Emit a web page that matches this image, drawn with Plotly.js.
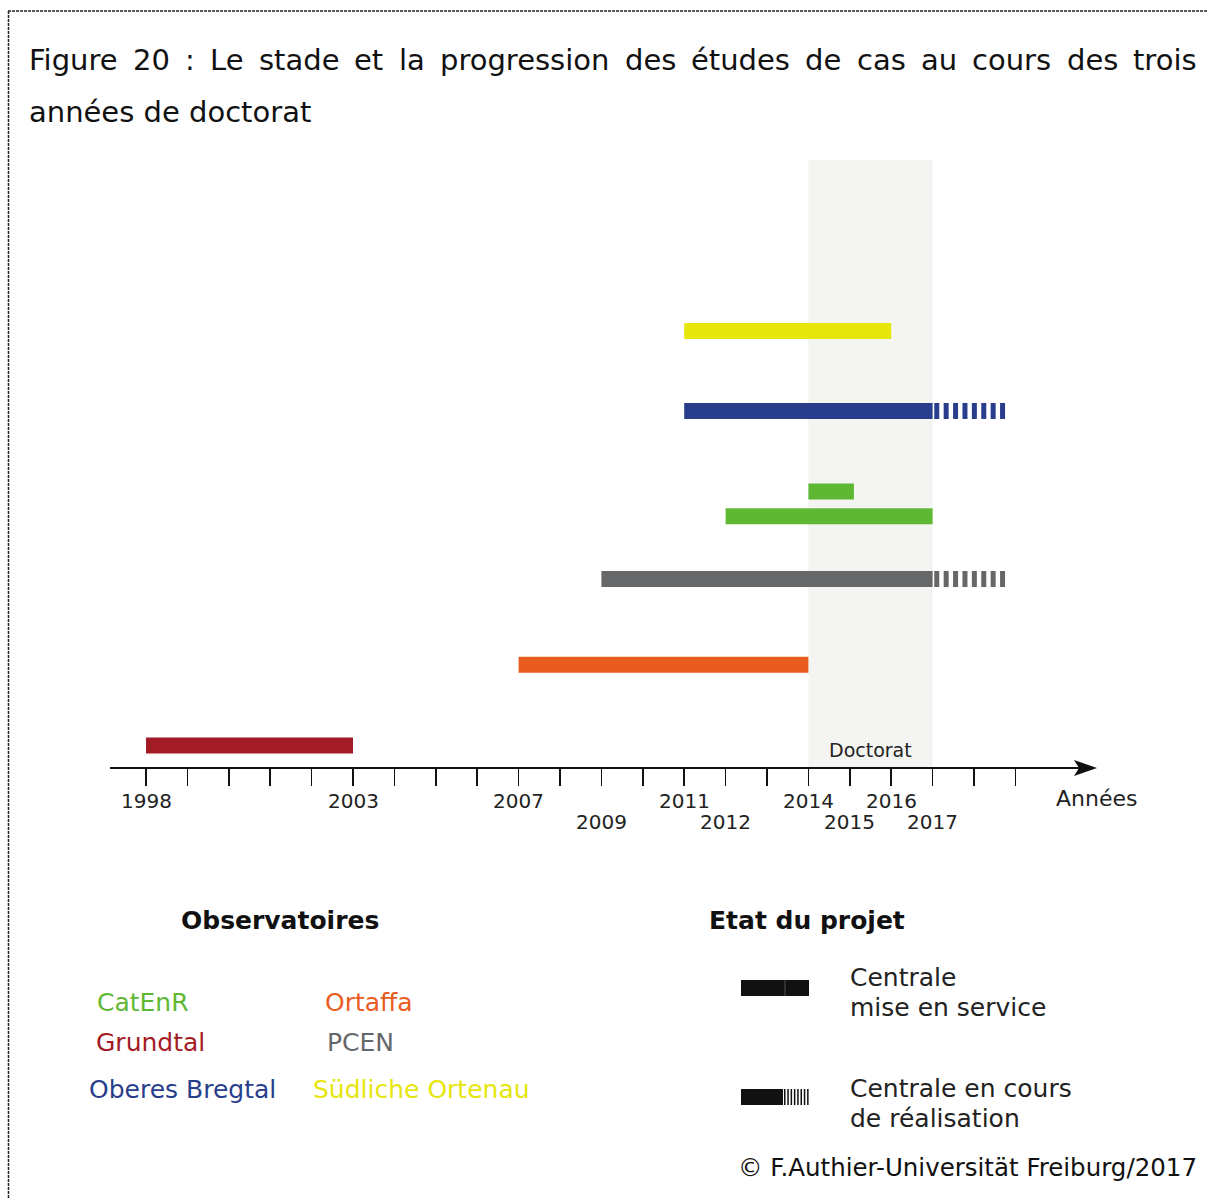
<!DOCTYPE html>
<html>
<head>
<meta charset="utf-8">
<script src="https://cdn.plot.ly/plotly-3.0.1.min.js"></script>
<style>
html,body{margin:0;padding:0;background:#fff;}
#chart{width:1208px;height:1198px;}
</style>
</head>
<body>
<div id="chart"></div>
<script>
// ---- Data ----
const observatoires = ['Grundtal', 'Ortaffa', 'PCEN', 'CatEnR', 'CatEnR', 'Oberes Bregtal', 'Südliche Ortenau'];
const debut = [1998, 2007, 2009, 2012, 2014, 2011, 2011];
const fin = [2003, 2014, 2017, 2017, 2015.1, 2017, 2016];
const finPrevue = [null, null, 2018.76, null, null, 2018.76, null];
const rang = [0, 1.01, 2.08, 2.865, 3.175, 4.18, 5.18];
const couleurs = ['#a31b24', '#e95c1f', '#666769', '#5fb833', '#5fb833', '#283e8c', '#e6e60a'];

const annees = [1998,1999,2000,2001,2002,2003,2004,2005,2006,2007,2008,2009,2010,2011,2012,2013,2014,2015,2016,2017,2018,2019];
const labelsHaut = [1998, 2003, 2007, 2011, 2014, 2016];
const labelsBas = [2009, 2012, 2015, 2017];
const doctorat = [2014, 2017];

const legendeNoms = ['CatEnR', 'Ortaffa', 'Grundtal', 'PCEN', 'Oberes Bregtal', 'Südliche Ortenau'];
const legendeCouleurs = ['#5fb833', '#e95c1f', '#a31b24', '#666769', '#283e8c', '#e6e60a'];

const titreLigne1 = 'Figure 20 : Le stade et la progression des études de cas au cours des trois';
const titreLigne2 = 'années de doctorat';

// ---- Layout helpers (pixel -> paper) ----
const W = 1208, H = 1198, TOP = 160, AXY = 768;
const PH = AXY - TOP;
const X = px => px / W;
const Y = py => (AXY - py) / PH;
const FONT = 'DejaVu Sans, Verdana, sans-serif';
const pxPerYear = 41.4;
const x0 = 1998 - 146 / pxPerYear;
const x1 = 1998 + (W - 146) / pxPerYear;

const traces = [];
for (let i = 0; i < debut.length; i++) {
  traces.push({
    type: 'scatter', mode: 'lines',
    x: [debut[i], fin[i]], y: [rang[i], rang[i]],
    line: {color: couleurs[i], width: 16},
    name: observatoires[i], showlegend: false, hoverinfo: 'skip'
  });
  if (finPrevue[i] !== null) {
    traces.push({
      type: 'scatter', mode: 'lines',
      x: [fin[i] + 0.04, finPrevue[i]], y: [rang[i], rang[i]],
      line: {color: couleurs[i], width: 16, dash: '5px,4.4px'},
      showlegend: false, hoverinfo: 'skip'
    });
  }
}

const shapes = [
  {type: 'rect', xref: 'x', yref: 'paper', x0: doctorat[0], x1: doctorat[1], y0: 0, y1: 1,
   fillcolor: '#f4f4f2', line: {width: 0}, layer: 'below'},
  {type: 'line', xref: 'paper', yref: 'paper', x0: X(110), x1: X(1082), y0: Y(AXY), y1: Y(AXY),
   line: {color: '#111', width: 2}},
  {type: 'path', xref: 'paper', yref: 'paper',
   path: `M ${X(1074)} ${Y(AXY-8)} L ${X(1097)} ${Y(AXY)} L ${X(1074)} ${Y(AXY+8)} L ${X(1079)} ${Y(AXY)} Z`,
   fillcolor: '#111', line: {width: 0}},
  {type: 'line', xref: 'paper', yref: 'paper', x0: X(8), x1: X(1208), y0: Y(11), y1: Y(11),
   line: {color: '#222', width: 1.5, dash: '3px,1px'}},
  {type: 'line', xref: 'paper', yref: 'paper', x0: X(8.5), x1: X(8.5), y0: Y(11), y1: Y(1198),
   line: {color: '#222', width: 1.5, dash: '3px,1px'}},
  {type: 'line', xref: 'paper', yref: 'paper', x0: X(741), x1: X(809), y0: Y(988), y1: Y(988),
   line: {color: '#111', width: 16}},
  {type: 'line', xref: 'paper', yref: 'paper', x0: X(785), x1: X(785), y0: Y(980), y1: Y(996),
   line: {color: '#555', width: 1}},
  {type: 'line', xref: 'paper', yref: 'paper', x0: X(741), x1: X(783), y0: Y(1097), y1: Y(1097),
   line: {color: '#111', width: 16}},
  {type: 'line', xref: 'paper', yref: 'paper', x0: X(784), x1: X(810), y0: Y(1097), y1: Y(1097),
   line: {color: '#111', width: 16, dash: '1.5px,1.8px'}}
];

const annotations = [];
function txt(text, px, py, size, color, xanchor, bold) {
  annotations.push({
    xref: 'paper', yref: 'paper', x: X(px), y: Y(py), text: bold ? '<b>' + text + '</b>' : text,
    showarrow: false, xanchor: xanchor || 'left', yanchor: 'middle',
    font: {family: FONT, size: size, color: color || '#111'}
  });
}

// justified title line 1 (word positions measured with canvas)
const TSIZE = 29;
const ctx = document.createElement('canvas').getContext('2d');
ctx.font = TSIZE + 'px "DejaVu Sans"';
const mots = titreLigne1.split(' ');
const larg = mots.map(m => ctx.measureText(m).width);
const somme = larg.reduce((a, b) => a + b, 0);
const L0 = 29, L1 = 1197;
const gap = (L1 - L0 - somme) / (mots.length - 1);
let cx = L0;
mots.forEach((m, i) => {
  txt(m, cx - 2, 60, TSIZE, '#111');
  cx += larg[i] + gap;
});
txt(titreLigne2, 27, 112, TSIZE, '#111');

// year labels
labelsHaut.forEach(a => annotations.push({xref: 'x', yref: 'paper', x: a, y: Y(801), text: String(a),
  showarrow: false, xanchor: 'center', yanchor: 'middle', font: {family: FONT, size: 20, color: '#222'}}));
labelsBas.forEach(a => annotations.push({xref: 'x', yref: 'paper', x: a, y: Y(822), text: String(a),
  showarrow: false, xanchor: 'center', yanchor: 'middle', font: {family: FONT, size: 20, color: '#222'}}));

annotations.push({xref: 'x', yref: 'paper', x: (doctorat[0] + doctorat[1]) / 2, y: Y(750), text: 'Doctorat',
  showarrow: false, xanchor: 'center', yanchor: 'middle', font: {family: FONT, size: 19, color: '#222'}});
txt('Années', 1054, 799, 22, '#222');

// legends
txt('Observatoires', 179, 920, 25, '#111', 'left', true);
txt('Etat du projet', 707, 920, 25, '#111', 'left', true);
const legPos = [[95, 1002], [323, 1002], [94, 1042], [325, 1042], [87, 1089], [311, 1089]];
legendeNoms.forEach((n, i) => txt(n, legPos[i][0], legPos[i][1], 25, legendeCouleurs[i]));
txt('Centrale', 848, 977, 25, '#222');
txt('mise en service', 848, 1007, 25, '#222');
txt('Centrale en cours', 848, 1088, 25, '#222');
txt('de réalisation', 848, 1118, 25, '#222');
txt('© F.Authier-Universität Freiburg/2017', 1199, 1167, 24.5, '#111', 'right');

const layout = {
  width: W, height: H,
  margin: {l: 0, r: 0, t: TOP, b: H - AXY, pad: 0},
  paper_bgcolor: '#fff', plot_bgcolor: 'rgba(0,0,0,0)',
  showlegend: false,
  xaxis: {range: [x0, x1], tickmode: 'array', tickvals: annees, ticks: 'outside', ticklen: 17,
    tickwidth: 1.5, tickcolor: '#111', showticklabels: false, showgrid: false, zeroline: false,
    showline: false, fixedrange: true},
  yaxis: {range: [-0.28125, -0.28125 + PH / 80], showticklabels: false, showgrid: false,
    zeroline: false, showline: false, ticks: '', fixedrange: true},
  shapes: shapes,
  annotations: annotations
};

Plotly.newPlot('chart', traces, layout, {displayModeBar: false, staticPlot: true});
</script>
</body>
</html>
